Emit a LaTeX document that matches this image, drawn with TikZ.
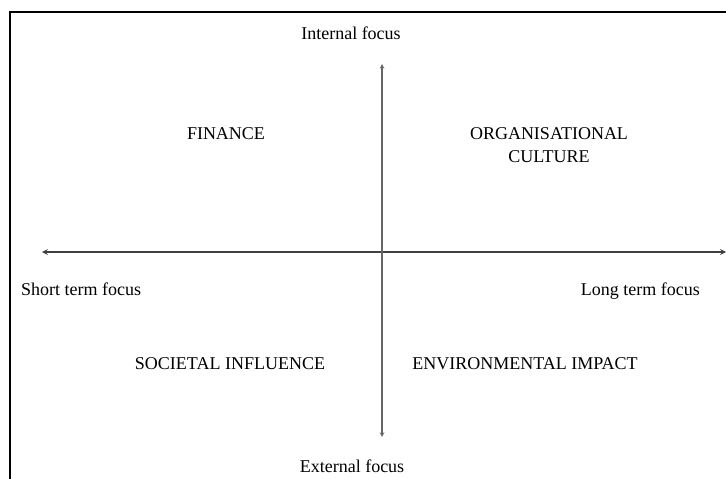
\documentclass[tikz,border=0pt]{standalone}
\usepackage{fontspec}
\setmainfont{Liberation Serif}
\tikzset{>=stealth}
\tikzset{lbl/.style={font=\fontsize{18}{23}\selectfont, inner sep=0pt}}

\begin{document}
\begin{tikzpicture}[x=1pt,y=-1pt]
  \useasboundingbox (0,0) rectangle (726,479);
  \clip (0,0) rectangle (726,479);
  \draw[line width=2.2pt] (10,480) -- (10,12) -- (727,12);
  \coordinate (top) at (382,64);
  \coordinate (bottom) at (382,437);
  \coordinate (left) at (42,252);
  \coordinate (right) at (726,252);
  \draw[<->,line width=1.6pt,black!75] (left) -- (right);
  \draw[<->,line width=1.1pt,black!60] (bottom) -- (top);
  \node[lbl] (internal) at (351,33) {Internal focus};
  \node[lbl] (external) at (352,466) {External focus};
  \node[lbl,anchor=base west] (short) at (21,295) {Short term focus};
  \node[lbl,anchor=base east] (long) at (700,295) {Long term focus};
  \node[lbl] (finance) at (226,134) {FINANCE};
  \node[lbl,align=center] (culture) at (549,145) {ORGANISATIONAL\\CULTURE};
  \node[lbl] (societal) at (230,364) {SOCIETAL INFLUENCE};
  \node[lbl] (environ) at (525,364) {ENVIRONMENTAL IMPACT};
\end{tikzpicture}
\end{document}
